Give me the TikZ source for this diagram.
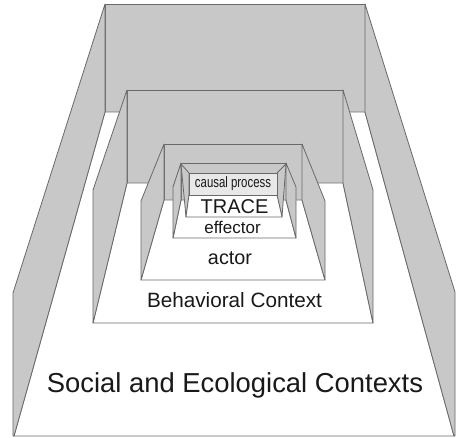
\documentclass[tikz,border=0pt]{standalone}
\usepackage{fontspec}
\setmainfont{Liberation Sans}
\definecolor{wallgray}{RGB}{200,200,200}
\definecolor{edgegray}{RGB}{105,105,105}
\definecolor{panelgray}{RGB}{232,232,232}
\definecolor{txt}{RGB}{25,25,25}
\tikzset{
  wall/.style={fill=wallgray, draw=edgegray, line width=0.8pt, line join=round},
  floorpl/.style={fill=white, draw=edgegray, line width=0.8pt, line join=round},
  panel/.style={fill=panelgray, draw=edgegray, line width=0.8pt, line join=round},
  lbl/.style={text=txt, inner sep=0pt, anchor=base}
}
\begin{document}
\begin{tikzpicture}[x=1pt,y=-1pt]
\useasboundingbox (0,0) rectangle (456,438);
% level 1
\draw[wall] (105,4) rectangle (365,112);
\draw[floorpl] (105,112) -- (365,112) -- (454,436) -- (14,436) -- cycle;
\draw[wall] (105,4) -- (13,293) -- (13,436) -- (14,436) -- (105,112) -- cycle;
\draw[wall] (365,4) -- (455,292) -- (455,436) -- (454,436) -- (365,112) -- cycle;
% level 2
\draw[wall] (127,90) rectangle (343,183);
\draw[floorpl] (127,183) -- (343,183) -- (373,323) -- (93,323) -- cycle;
\draw[wall] (127,90) -- (93,190) -- (93,323) -- (127,183) -- cycle;
\draw[wall] (343,90) -- (373,190) -- (373,323) -- (343,183) -- cycle;
% level 3
\draw[wall] (164,144) rectangle (302,200);
\draw[floorpl] (164,200) -- (302,200) -- (325,280) -- (141,280) -- cycle;
\draw[wall] (164,144) -- (141,201) -- (141,280) -- (164,200) -- cycle;
\draw[wall] (302,144) -- (325,201) -- (325,280) -- (302,200) -- cycle;
% level 4
\draw[wall] (181,163) rectangle (286,200);
\draw[floorpl] (181,200) -- (286,200) -- (296,238) -- (173,238) -- cycle;
\draw[wall] (181,163) -- (173,187) -- (173,238) -- (181,200) -- cycle;
\draw[wall] (286,163) -- (296,187) -- (296,238) -- (286,200) -- cycle;
% level 5
\draw[wall] (181,164) -- (189,173) -- (189,195) -- (186,217) -- cycle;
\draw[wall] (286,164) -- (277,173) -- (277,195) -- (282,217) -- cycle;
\draw[floorpl] (189,195) -- (277,195) -- (282,217) -- (186,217) -- cycle;
\draw[panel] (189,173) rectangle (277,195);
% labels
\node[lbl, font=\fontsize{27.4}{30}\selectfont] (social) at (235,393) {Social and Ecological Contexts};
\node[lbl, font=\fontsize{20.7}{24}\selectfont] (behav) at (234.5,308) {Behavioral Context};
\node[lbl, font=\fontsize{19.8}{23}\selectfont] (actor) at (230,265) {actor};
\node[lbl, font=\fontsize{17}{20}\selectfont] (effector) at (232.5,234) {effector};
\node[lbl, font=\fontsize{20}{23}\selectfont] (trace) at (234.5,213.6) {TRACE};
\node[lbl, font=\fontsize{15}{17}\selectfont, xscale=0.76] (causal) at (233,188) {causal process};
\end{tikzpicture}
\end{document}
